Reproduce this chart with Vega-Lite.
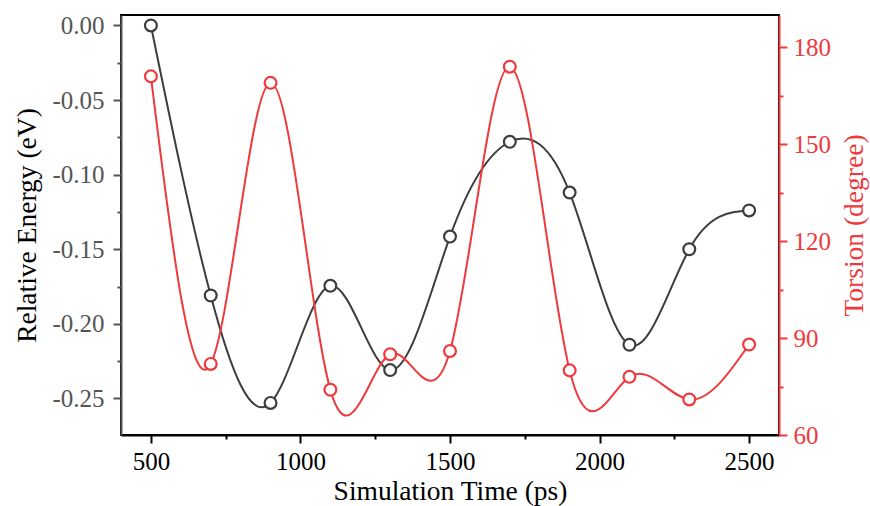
{
  "$schema": "https://vega.github.io/schema/vega-lite/v6.json",
  "autosize": {"type": "none"},
  "width": 658,
  "height": 420,
  "padding": {"left": 121, "top": 15, "right": 91, "bottom": 71},
  "background": "white",
  "config": {
    "view": {"stroke": "black", "strokeWidth": 2},
    "font": "Liberation Serif",
    "axis": {
      "labelFont": "Liberation Serif",
      "titleFont": "Liberation Serif",
      "labelFontSize": 25,
      "titleFontSize": 27.5,
      "titleFontWeight": "normal",
      "grid": false,
      "domainWidth": 2,
      "tickWidth": 2,
      "labelOverlap": false,
      "labelFlush": false
    }
  },
  "data": {
    "values": [
      {"time": 500, "energy": 0.0, "torsion": 171},
      {"time": 700, "energy": -0.181, "torsion": 82},
      {"time": 900, "energy": -0.253, "torsion": 169},
      {"time": 1100, "energy": -0.1745, "torsion": 74},
      {"time": 1300, "energy": -0.231, "torsion": 85},
      {"time": 1500, "energy": -0.1415, "torsion": 86},
      {"time": 1700, "energy": -0.078, "torsion": 174},
      {"time": 1900, "energy": -0.112, "torsion": 80},
      {"time": 2100, "energy": -0.214, "torsion": 78},
      {"time": 2300, "energy": -0.150, "torsion": 71},
      {"time": 2500, "energy": -0.124, "torsion": 88}
    ]
  },
  "encoding": {
    "x": {
      "field": "time",
      "type": "quantitative",
      "scale": {"domain": [400, 2600], "nice": false, "zero": false},
      "axis": {
        "title": "Simulation Time (ps)",
        "values": [500, 750, 1000, 1250, 1500, 1750, 2000, 2250, 2500],
        "format": "d",
        "labelExpr": "datum.value % 500 === 0 ? datum.label : ''",
        "tickSize": {"condition": {"test": "datum.value % 500 === 0", "value": 8}, "value": 4},
        "domainColor": "black",
        "tickColor": "black",
        "labelColor": "black",
        "titleColor": "black",
        "labelPadding": 6,
        "titlePadding": 3
      }
    }
  },
  "layer": [
    {
      "encoding": {
        "y": {
          "field": "energy",
          "type": "quantitative",
          "scale": {"domain": [-0.2745, 0.007], "nice": false, "zero": false},
          "axis": {
            "orient": "left",
            "title": "Relative Energy (eV)",
            "values": [-0.25, -0.225, -0.2, -0.175, -0.15, -0.125, -0.1, -0.075, -0.05, -0.025, 0],
            "labelExpr": "round(datum.value*1000) % 50 === 0 ? replace(format(datum.value, '.2f'), '\u2212', '-') : ''",
            "tickSize": {"condition": {"test": "round(datum.value*1000) % 50 === 0", "value": 8}, "value": 4},
            "domainColor": "#555555",
            "tickColor": "#555555",
            "labelColor": "#555555",
            "titleColor": "black",
            "labelPadding": 9,
            "titlePadding": 10
          }
        }
      },
      "layer": [
        {"mark": {"type": "line", "interpolate": "natural", "color": "#3d3d3d", "strokeWidth": 2}},
        {"mark": {"type": "point", "shape": "circle", "filled": false, "fill": "white", "fillOpacity": 1, "opacity": 1, "size": 140, "strokeWidth": 2.2, "color": "#3d3d3d"}}
      ]
    },
    {
      "encoding": {
        "y": {
          "field": "torsion",
          "type": "quantitative",
          "scale": {"domain": [60, 190], "nice": false, "zero": false},
          "axis": {
            "orient": "right",
            "title": "Torsion (degree)",
            "titleAngle": 270,
            "values": [60, 75, 90, 105, 120, 135, 150, 165, 180],
            "labelExpr": "datum.value % 30 === 0 ? datum.label : ''",
            "tickSize": {"condition": {"test": "datum.value % 30 === 0", "value": 8}, "value": 4},
            "domainColor": "#f0393c",
            "tickColor": "#f0393c",
            "labelColor": "#f0393c",
            "titleColor": "#f0393c",
            "labelPadding": 6,
            "titlePadding": 38
          }
        }
      },
      "layer": [
        {"mark": {"type": "line", "interpolate": "natural", "color": "#f0393c", "strokeWidth": 2}},
        {"mark": {"type": "point", "shape": "circle", "filled": false, "fill": "white", "fillOpacity": 1, "opacity": 1, "size": 140, "strokeWidth": 2.2, "color": "#f0393c"}}
      ]
    }
  ],
  "resolve": {"scale": {"y": "independent"}}
}
